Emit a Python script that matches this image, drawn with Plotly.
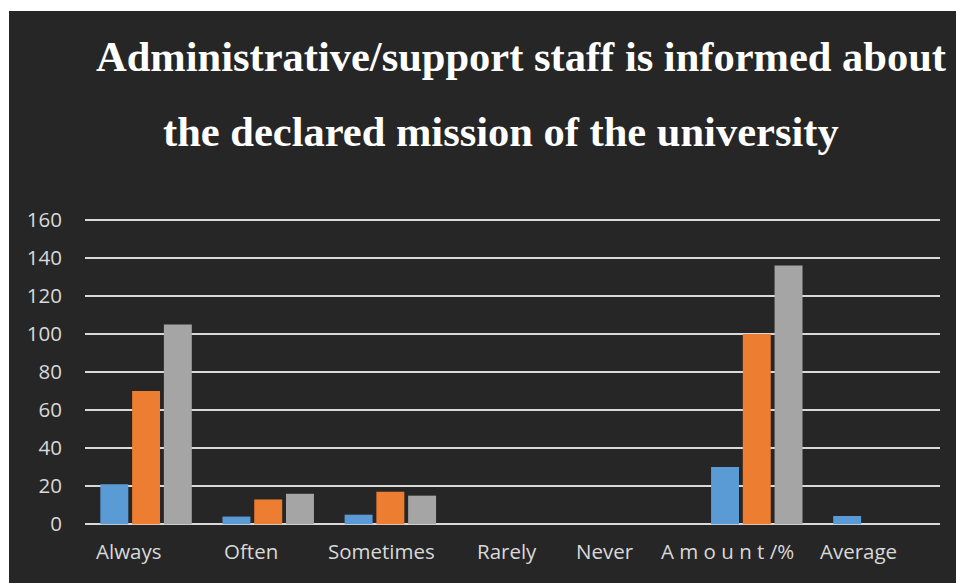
import plotly.graph_objects as go

# Survey responses per answer category
categories = ["Always", "Often", "Sometimes", "Rarely", "Never", "A m o u n t /%", "Average"]
series_1 = [21, 4, 5, 0, 0, 30, 4.3]
series_2 = [70, 13, 17, 0, 0, 100, 0]
series_3 = [105, 16, 15, 0, 0, 136, 0]
y_ticks = [0, 20, 40, 60, 80, 100, 120, 140, 160]

title_line_1 = "Administrative/support staff is informed about"
title_line_2 = "the declared mission of the university"

# horizontal nudge (px) of each category label relative to its bar group
label_nudge = [-18, -17, -9, -6, -30, -29, -20]

W, H = 956, 583
L, R, T, B = 85, 16, 216, 55
PW, PH = W - L - R, H - T - B
Y_MIN, Y_MAX = -2, 162


def px_x(px):
    return (px - L) / PW


def px_y(py):
    return (H - B - py) / PH


BG = "#262626"
GRID = "#d9d9d9"
TEXT = "#d9d9d9"

fig = go.Figure()
for vals, color in [(series_1, "#5b9bd5"), (series_2, "#ed7d31"), (series_3, "#a5a5a5")]:
    fig.add_trace(go.Bar(x=categories, y=vals, base=0,
                         marker=dict(color=color, line=dict(width=0)),
                         showlegend=False))

annotations = [
    dict(text="<b>%s</b>" % title_line_1, xref="paper", yref="paper",
         x=px_x(521), y=px_y(56), xanchor="center", yanchor="middle",
         showarrow=False, font=dict(family="Liberation Serif", size=42.5, color="white")),
    dict(text="<b>%s</b>" % title_line_2, xref="paper", yref="paper",
         x=px_x(500.5), y=px_y(131), xanchor="center", yanchor="middle",
         showarrow=False, font=dict(family="Liberation Serif", size=42.5, color="white")),
]
for cat, nudge in zip(categories, label_nudge):
    annotations.append(dict(text=cat, x=cat, xref="x", yref="paper", y=px_y(551),
                            xanchor="center", yanchor="middle", xshift=nudge,
                            showarrow=False,
                            font=dict(family="Open Sans", size=20.5, color=TEXT)))

fig.update_layout(
    width=W, height=H,
    margin=dict(l=L, r=R, t=T, b=B),
    paper_bgcolor="white",
    plot_bgcolor="rgba(0,0,0,0)",
    barmode="group", bargap=0.22, bargroupgap=0.12,
    font=dict(family="Open Sans", color=TEXT, size=20),
    xaxis=dict(showgrid=False, zeroline=False, showline=False, ticks="",
               showticklabels=False, fixedrange=True),
    yaxis=dict(range=[Y_MIN, Y_MAX], tickvals=y_ticks, showgrid=True, gridcolor=GRID,
               gridwidth=2, zeroline=False, showline=False, ticks="",
               tickfont=dict(size=20.5, color=TEXT), ticklabelstandoff=22,
               fixedrange=True),
    shapes=[dict(type="rect", xref="paper", yref="paper", layer="below",
                 x0=px_x(9), x1=px_x(W + 2), y0=px_y(11), y1=px_y(H + 2),
                 fillcolor=BG, line=dict(width=0))],
    annotations=annotations,
)

fig.write_html("out.html")
